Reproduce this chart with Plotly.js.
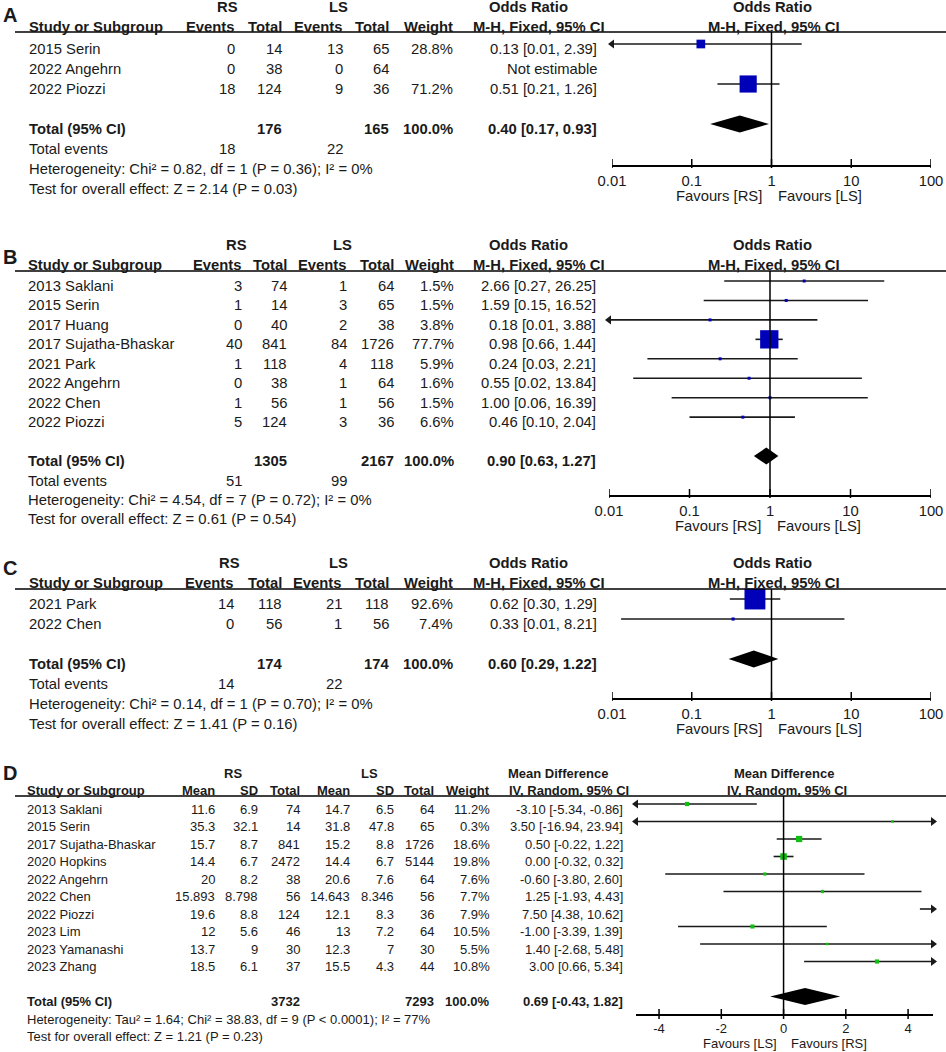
<!DOCTYPE html>
<html><head><meta charset="utf-8">
<script src="https://cdn.plot.ly/plotly-3.0.1.min.js"></script>
<style>html,body{margin:0;padding:0;background:#fff}#chart{width:946px;height:1052px}</style>
</head><body><div id="chart"></div>
<script>
// ---------------- DATA ----------------
// Panel A
const A_studies = ['2015 Serin', '2022 Angehrn', '2022 Piozzi'];
const A_rsEvents = [0, 0, 18];
const A_rsTotal = [14, 38, 124];
const A_lsEvents = [13, 0, 9];
const A_lsTotal = [65, 64, 36];
const A_weight = [28.8, null, 71.2];
const A_or = [0.13, null, 0.51];
const A_lo = [0.0075, null, 0.21];
const A_hi = [2.39, null, 1.26];
const A_totals = [176, 165];
const A_totalOR = [0.40, 0.17, 0.93];
const A_totalEvents = [18, 22];
const A_stats = ['Heterogeneity: Chi² = 0.82, df = 1 (P = 0.36); I² = 0%', 'Test for overall effect: Z = 2.14 (P = 0.03)'];

// Panel B
const B_studies = ['2013 Saklani', '2015 Serin', '2017 Huang', '2017 Sujatha-Bhaskar', '2021 Park', '2022 Angehrn', '2022 Chen', '2022 Piozzi'];
const B_rsEvents = [3, 1, 0, 40, 1, 0, 1, 5];
const B_rsTotal = [74, 14, 40, 841, 118, 38, 56, 124];
const B_lsEvents = [1, 3, 2, 84, 4, 1, 1, 3];
const B_lsTotal = [64, 65, 38, 1726, 118, 64, 56, 36];
const B_weight = [1.5, 1.5, 3.8, 77.7, 5.9, 1.6, 1.5, 6.6];
const B_or = [2.66, 1.59, 0.18, 0.98, 0.24, 0.55, 1.00, 0.46];
const B_lo = [0.27, 0.15, 0.0084, 0.66, 0.03, 0.02, 0.06, 0.10];
const B_hi = [26.25, 16.52, 3.88, 1.44, 2.21, 13.84, 16.39, 2.04];
const B_totals = [1305, 2167];
const B_totalOR = [0.90, 0.63, 1.27];
const B_totalEvents = [51, 99];
const B_stats = ['Heterogeneity: Chi² = 4.54, df = 7 (P = 0.72); I² = 0%', 'Test for overall effect: Z = 0.61 (P = 0.54)'];

// Panel C
const C_studies = ['2021 Park', '2022 Chen'];
const C_rsEvents = [14, 0];
const C_rsTotal = [118, 56];
const C_lsEvents = [21, 1];
const C_lsTotal = [118, 56];
const C_weight = [92.6, 7.4];
const C_or = [0.62, 0.33];
const C_lo = [0.30, 0.013];
const C_hi = [1.29, 8.21];
const C_totals = [174, 174];
const C_totalOR = [0.60, 0.29, 1.22];
const C_totalEvents = [14, 22];
const C_stats = ['Heterogeneity: Chi² = 0.14, df = 1 (P = 0.70); I² = 0%', 'Test for overall effect: Z = 1.41 (P = 0.16)'];

// Panel D
const D_studies = ['2013 Saklani', '2015 Serin', '2017 Sujatha-Bhaskar', '2020 Hopkins', '2022 Angehrn', '2022 Chen', '2022 Piozzi', '2023 Lim', '2023 Yamanashi', '2023 Zhang'];
const D_rsMean = [11.6, 35.3, 15.7, 14.4, 20, 15.893, 19.6, 12, 13.7, 18.5];
const D_rsSD = [6.9, 32.1, 8.7, 6.7, 8.2, 8.798, 8.8, 5.6, 9, 6.1];
const D_rsTotal = [74, 14, 841, 2472, 38, 56, 124, 46, 30, 37];
const D_lsMean = [14.7, 31.8, 15.2, 14.4, 20.6, 14.643, 12.1, 13, 12.3, 15.5];
const D_lsSD = [6.5, 47.8, 8.8, 6.7, 7.6, 8.346, 8.3, 7.2, 7, 4.3];
const D_lsTotal = [64, 65, 1726, 5144, 64, 56, 36, 64, 30, 44];
const D_weight = [11.2, 0.3, 18.6, 19.8, 7.6, 7.7, 7.9, 10.5, 5.5, 10.8];
const D_md = [-3.10, 3.50, 0.50, 0.00, -0.60, 1.25, 7.50, -1.00, 1.40, 3.00];
const D_lo = [-5.34, -16.94, -0.22, -0.32, -3.80, -1.93, 4.38, -3.39, -2.68, 0.66];
const D_hi = [-0.86, 23.94, 1.22, 0.32, 2.60, 4.43, 10.62, 1.39, 5.48, 5.34];
const D_totals = [3732, 7293];
const D_totalMD = [0.69, -0.43, 1.82];
const D_stats = ['Heterogeneity: Tau² = 1.64; Chi² = 38.83, df = 9 (P < 0.0001); I² = 77%', 'Test for overall effect: Z = 1.21 (P = 0.23)'];

// Tick labels
const OR_ticks = [0.01, 0.1, 1, 10, 100];
const OR_tickText = ['0.01', '0.1', '1', '10', '100'];
const MD_ticks = [-4, -2, 0, 2, 4];
const MD_tickText = ['-4', '-2', '0', '2', '4'];

// ---------------- DRAWING ----------------
const W = 946, H = 1052;
const FONT = 'Liberation Sans, Arial, Helvetica, sans-serif';
const INK = '#1a1a1a';
const annotations = [], shapes = [], traces = [];
const layout = {
  width: W, height: H, margin: {l: 0, r: 0, t: 0, b: 0},
  paper_bgcolor: '#fff', plot_bgcolor: 'rgba(0,0,0,0)', showlegend: false,
  font: {family: FONT, color: INK}, annotations: annotations, shapes: shapes
};

function T(x, y, text, anchor, size, bold) {
  annotations.push({
    xref: 'paper', yref: 'paper', x: x / W, y: 1 - y / H,
    text: bold ? '<b>' + text + '</b>' : text,
    xanchor: anchor, yanchor: 'middle', showarrow: false, borderpad: 0,
    font: {family: FONT, size: size, color: INK}
  });
}
function hline(y, x0, x1) {
  shapes.push({type: 'line', xref: 'paper', yref: 'paper', x0: x0 / W, x1: x1 / W,
    y0: 1 - y / H, y1: 1 - y / H, line: {color: '#000', width: 1.5}});
}
const f2 = v => v.toFixed(2);
const ciText = (e, l, h) => f2(e) + ' [' + f2(l) + ', ' + f2(h) + ']';

function setupPanel(k, g) {
  const s = k === 1 ? '' : String(k);
  layout['yaxis' + s] = {
    domain: [1 - g.axisY / H, 1 - g.lineY / H],
    range: [(g.axisY - g.row0) / g.rowH, (g.lineY - g.row0) / g.rowH],
    visible: false, fixedrange: true, anchor: 'x' + s
  };
  layout['xaxis' + s] = {
    domain: [g.x0 / W, g.x1 / W], type: g.log ? 'log' : 'linear', range: g.range,
    anchor: 'y' + s, showline: true, linecolor: '#000', linewidth: 1.5,
    ticks: '', tickmode: 'array', tickvals: g.tickvals, ticktext: g.ticktext,
    tickfont: {family: FONT, size: g.fs, color: INK},
    showgrid: false, zeroline: false, fixedrange: true, ticklabelstandoff: 2
  };
  // tick marks crossing the axis line
  g.tickvals.forEach(v => shapes.push({type: 'line', xref: 'x' + s, yref: 'paper', x0: v, x1: v,
    y0: 1 - (g.axisY - g.tickUp) / H, y1: 1 - (g.axisY + g.tickDn) / H, line: {color: '#000', width: 1.5}}));
  shapes.push({type: 'line', xref: 'x' + s, yref: 'y' + s + ' domain', x0: g.nullX, x1: g.nullX,
    y0: 0, y1: 1, line: {color: '#000', width: 1.5}});
  hline(g.lineY, 15, 946);
  T(2, g.labelY, g.label, 'left', 20, true);
  T(g.favL, g.favY, g.fav[0], 'right', g.fs, false);
  T(g.favR, g.favY, g.fav[1], 'left', g.fs, false);
  T(g.plotH1, g.hdr1Y, g.method[0], 'center', g.fs, true);
  T(g.plotH2, g.hdr2Y, g.method[1], 'center', g.fs, true);
  T(g.estH1, g.hdr1Y, g.method[0], 'center', g.fs, true);
  T(g.estH2, g.hdr2Y, g.method[1], 'center', g.fs, true);
  T(g.rsC, g.hdr1Y, 'RS', 'center', g.fs, true);
  T(g.lsC, g.hdr1Y, 'LS', 'center', g.fs, true);
  T(g.cols[0], g.hdr2Y, 'Study or Subgroup', 'left', g.fs, true);
}

function forest(k, g, est, lo, hi, w, color, tot) {
  const s = k === 1 ? '' : String(k);
  const xr = 'x' + s, yr = 'y' + s;
  const mn = g.log ? Math.pow(10, g.range[0]) : g.range[0];
  const mx = g.log ? Math.pow(10, g.range[1]) : g.range[1];
  const lx = [], ly = [], px = [], py = [], ps = [], ax = [], ay = [], asym = [];
  est.forEach((e, i) => {
    if (e === null) return;
    let a = lo[i], b = hi[i];
    if (a >= mx) { a = g.log ? mx / Math.pow(10, g.stub) : mx - g.stub; }
    if (b <= mn) { b = g.log ? mn * Math.pow(10, g.stub) : mn + g.stub; }
    lx.push(Math.max(a, mn), Math.min(b, mx), null);
    ly.push(i, i, null);
    if (lo[i] < mn) { ax.push(mn); ay.push(i); asym.push('triangle-left'); }
    if (hi[i] > mx) { ax.push(mx); ay.push(i); asym.push('triangle-right'); }
    if (e >= mn && e <= mx) {
      px.push(e); py.push(i);
      ps.push(Math.max(g.minS, 0.7 * Math.pow(w[i], 0.75)));
    }
  });
  traces.push({type: 'scatter', mode: 'lines', x: lx, y: ly, xaxis: xr, yaxis: yr,
    line: {color: '#1a1a1a', width: 1.6}, hoverinfo: 'skip', cliponaxis: false});
  traces.push({type: 'scatter', mode: 'markers', x: px, y: py, xaxis: xr, yaxis: yr,
    marker: {symbol: 'square', size: ps, color: color, opacity: 1, line: {width: 0}}, hoverinfo: 'skip', cliponaxis: false});
  if (ax.length) traces.push({type: 'scatter', mode: 'markers', x: ax, y: ay, xaxis: xr, yaxis: yr,
    marker: {symbol: asym, size: 8, color: '#1a1a1a', line: {width: 0}}, hoverinfo: 'skip', cliponaxis: false});
  const r = est.length + 1, h = 8.5 / g.rowH;
  traces.push({type: 'scatter', mode: 'lines', fill: 'toself', fillcolor: '#000',
    x: [tot[1], tot[0], tot[2], tot[0], tot[1]], y: [r, r - h, r, r + h, r],
    xaxis: xr, yaxis: yr, line: {width: 0, color: '#000'}, hoverinfo: 'skip', cliponaxis: false});
}

function binaryPanel(k, g, studies, rsE, rsN, lsE, lsN, wt, est, lo, hi, totals, totOR, totEv, stats) {
  setupPanel(k, g);
  const c = g.cols, fs = g.fs, rowY = i => g.row0 + i * g.rowH + 5;
  T(c[1], g.hdr2Y, 'Events', 'right', fs, true);
  T(c[2], g.hdr2Y, 'Total', 'right', fs, true);
  T(c[3], g.hdr2Y, 'Events', 'right', fs, true);
  T(c[4], g.hdr2Y, 'Total', 'right', fs, true);
  T(c[5], g.hdr2Y, 'Weight', 'right', fs, true);
  studies.forEach((name, i) => {
    const y = rowY(i);
    T(c[0], y, name, 'left', fs);
    T(c[1], y, String(rsE[i]), 'right', fs);
    T(c[2], y, String(rsN[i]), 'right', fs);
    T(c[3], y, String(lsE[i]), 'right', fs);
    T(c[4], y, String(lsN[i]), 'right', fs);
    if (wt[i] !== null) T(c[5], y, wt[i].toFixed(1) + '%', 'right', fs);
    T(c[6], y, est[i] === null ? 'Not estimable' : ciText(est[i], lo[i], hi[i]), 'right', fs);
  });
  const n = studies.length;
  let y = rowY(n + 1);
  T(c[0], y, 'Total (95% CI)', 'left', fs, true);
  T(c[2], y, String(totals[0]), 'right', fs, true);
  T(c[4], y, String(totals[1]), 'right', fs, true);
  T(c[5], y, '100.0%', 'right', fs, true);
  T(c[6], y, ciText(totOR[0], totOR[1], totOR[2]), 'right', fs, true);
  y = rowY(n + 2);
  T(c[0], y, 'Total events', 'left', fs);
  T(c[1], y, String(totEv[0]), 'right', fs);
  T(c[3], y, String(totEv[1]), 'right', fs);
  T(c[0], rowY(n + 3), stats[0], 'left', fs);
  T(c[0], rowY(n + 4), stats[1], 'left', fs);
  forest(k, g, est, lo, hi, wt, '#0000b8', totOR);
}

const orBase = {x1: 931, log: true, range: [-2, 2], nullX: 1, fs: 14.8, tickvals: OR_ticks, ticktext: OR_tickText,
  estH1: 528, estH2: 539, plotH1: 772, plotH2: 774, fav: ['Favours [RS]', 'Favours [LS]'],
  method: ['Odds Ratio', 'M-H, Fixed, 95% CI'], minS: 3, stub: 0.2, tickUp: 6, tickDn: 3};

const gA = Object.assign({}, orBase, {label: 'A', labelY: 15, hdr1Y: 7, hdr2Y: 27, lineY: 32, axisY: 165,
  row0: 44, rowH: 20, x0: 612, cols: [28, 236, 283, 344, 390, 454, 598], rsC: 227, lsC: 338,
  favY: 196, favL: 763, favR: 777});
const gB = Object.assign({}, orBase, {label: 'B', labelY: 257, hdr1Y: 245, hdr2Y: 265, lineY: 271, axisY: 495,
  row0: 281, rowH: 19.45, x0: 609, cols: [27, 243, 288, 348, 395, 455, 597], rsC: 236, lsC: 342,
  favY: 526, favL: 762, favR: 776});
const gC = Object.assign({}, orBase, {label: 'C', labelY: 568, hdr1Y: 563, hdr2Y: 583, lineY: 589, axisY: 698,
  row0: 599, rowH: 20, x0: 612, cols: [28, 235, 283, 343, 390, 454, 598], rsC: 229, lsC: 338,
  favY: 729, favL: 763, favR: 777});

binaryPanel(1, gA, A_studies, A_rsEvents, A_rsTotal, A_lsEvents, A_lsTotal, A_weight, A_or, A_lo, A_hi, A_totals, A_totalOR, A_totalEvents, A_stats);
binaryPanel(2, gB, B_studies, B_rsEvents, B_rsTotal, B_lsEvents, B_lsTotal, B_weight, B_or, B_lo, B_hi, B_totals, B_totalOR, B_totalEvents, B_stats);
binaryPanel(3, gC, C_studies, C_rsEvents, C_rsTotal, C_lsEvents, C_lsTotal, C_weight, C_or, C_lo, C_hi, C_totals, C_totalOR, C_totalEvents, C_stats);

// Panel D (continuous)
const gD = {label: 'D', labelY: 773, hdr1Y: 773, hdr2Y: 790, lineY: 796, axisY: 1014, row0: 804, rowH: 17.5,
  x0: 636, x1: 933, log: false, range: [-4.74, 4.8], nullX: 0, fs: 13, tickvals: MD_ticks, ticktext: MD_tickText,
  cols: [26, 216, 259, 301, 351, 395, 435, 491, 624], rsC: 233, lsC: 369,
  estH1: 558, estH2: 569, plotH1: 784, plotH2: 787, fav: ['Favours [LS]', 'Favours [RS]'],
  favY: 1043, favL: 778, favR: 790, method: ['Mean Difference', 'IV, Random, 95% CI'], minS: 2.5, stub: 0.4,
  tickUp: 5, tickDn: 5};
(function () {
  const g = gD, c = g.cols, fs = g.fs, rowY = i => g.row0 + i * g.rowH + 5;
  setupPanel(4, g);
  ['Mean', 'SD', 'Total', 'Mean', 'SD', 'Total', 'Weight'].forEach((t, j) => T(c[j + 1], g.hdr2Y, t, 'right', fs, true));
  D_studies.forEach((name, i) => {
    const y = rowY(i);
    T(c[0], y, name, 'left', fs);
    [D_rsMean, D_rsSD, D_rsTotal, D_lsMean, D_lsSD, D_lsTotal].forEach((arr, j) => T(c[j + 1], y, String(arr[i]), 'right', fs));
    T(c[7], y, D_weight[i].toFixed(1) + '%', 'right', fs);
    T(c[8], y, ciText(D_md[i], D_lo[i], D_hi[i]), 'right', fs);
  });
  const n = D_studies.length;
  let y = rowY(n + 1);
  T(c[0], y, 'Total (95% CI)', 'left', fs, true);
  T(c[3], y, String(D_totals[0]), 'right', fs, true);
  T(c[6], y, String(D_totals[1]), 'right', fs, true);
  T(c[7], y, '100.0%', 'right', fs, true);
  T(c[8], y, ciText(D_totalMD[0], D_totalMD[1], D_totalMD[2]), 'right', fs, true);
  T(c[0], rowY(n + 2), D_stats[0], 'left', fs);
  T(c[0], rowY(n + 3), D_stats[1], 'left', fs);
  forest(4, g, D_md, D_lo, D_hi, D_weight, '#10c010', D_totalMD);
})();

Plotly.newPlot('chart', traces, layout, {staticPlot: true, displayModeBar: false});
</script>
</body></html>
